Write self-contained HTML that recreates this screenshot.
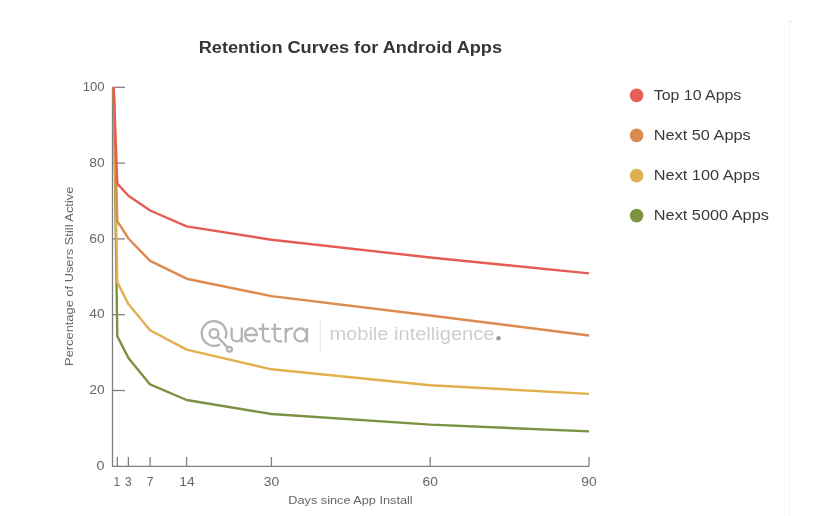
<!DOCTYPE html>
<html><head><meta charset="utf-8"><style>
html,body{margin:0;padding:0;background:#fff;width:817px;height:516px;overflow:hidden}
svg{display:block;will-change:transform}
text{font-family:"Liberation Sans",sans-serif}
</style></head><body>
<svg width="817" height="516" viewBox="0 0 817 516">
<rect width="817" height="516" fill="#fff"/>
<!-- faint right line -->
<line x1="41.5" y1="21" x2="41.5" y2="516" stroke="#fcfcfc" stroke-width="1"/>
<line x1="789.5" y1="23" x2="789.5" y2="516" stroke="#f7f7f7" stroke-width="1"/>
<circle cx="790.5" cy="21.3" r="1" fill="#e4e4e4"/>

<!-- title -->
<text x="350.4" y="53.1" text-anchor="middle" font-size="17.2" font-weight="bold" fill="#35353a" textLength="303.3" lengthAdjust="spacingAndGlyphs">Retention Curves for Android Apps</text>

<!-- watermark -->
<g fill="none" stroke="#b3b4b7" stroke-width="2.3">
  <path d="M220.15,344.15 A12.3,12.3 0 1 1 225.24,338.5"/>
  <circle cx="214" cy="333.5" r="4.4"/>
  <line x1="217.1" y1="336.6" x2="227.8" y2="347.6"/>
  <circle cx="229.5" cy="349.3" r="2.4"/>
  <path d="M231.6,327.5 V336.3 A5.1,5.1 0 0 0 241.8,336.3 M241.8,327.5 V342.4"/>
  <path d="M245.1,335 H256.9 A5.9,6.6 0 1 0 255.5,339"/>
  <path d="M263,323.6 V337 A4.4,4.4 0 0 0 267.4,341.4 H270.5 M258.5,328.8 H269.2"/>
  <path d="M274.8,323.6 V337 A4.4,4.4 0 0 0 279.2,341.4 H282.3 M271.2,328.8 H281.1"/>
  <path d="M285.7,327.9 V342.4 M285.7,334.5 C285.7,330.5 288.5,328.4 293,328.4"/>
  <ellipse cx="300.6" cy="334.95" rx="6.2" ry="6.45"/>
  <path d="M307,328 V342.4"/>
</g>
<line x1="320.3" y1="320" x2="320.3" y2="353" stroke="#e6e6e6" stroke-width="1"/>
<text x="329.4" y="340.3" font-size="18" fill="#cdced1" textLength="165" lengthAdjust="spacingAndGlyphs">mobile intelligence</text>
<circle cx="498.5" cy="338.2" r="2.2" fill="#9a9a9a"/>

<!-- axes -->
<g stroke="#7f7f7f" stroke-width="1.3" fill="none">
  <line x1="112.5" y1="87.3" x2="112.5" y2="466.3"/>
  <line x1="112" y1="466.3" x2="589" y2="466.3"/>
  <line x1="112.5" y1="87.3" x2="125" y2="87.3"/>
  <line x1="112.5" y1="163.1" x2="125" y2="163.1"/>
  <line x1="112.5" y1="238.9" x2="125" y2="238.9"/>
  <line x1="112.5" y1="314.7" x2="125" y2="314.7"/>
  <line x1="112.5" y1="390.5" x2="125" y2="390.5"/>
  <line x1="117.3" y1="457" x2="117.3" y2="466.3"/>
  <line x1="128.4" y1="457" x2="128.4" y2="466.3"/>
  <line x1="150.1" y1="457" x2="150.1" y2="466.3"/>
  <line x1="186.6" y1="457" x2="186.6" y2="466.3"/>
  <line x1="271.4" y1="457" x2="271.4" y2="466.3"/>
  <line x1="430.2" y1="457" x2="430.2" y2="466.3"/>
  <line x1="589" y1="457" x2="589" y2="466.3"/>
</g>
<g font-size="12" fill="#666" text-anchor="end">
  <text x="104.6" y="90.9" textLength="21.9" lengthAdjust="spacingAndGlyphs">100</text>
  <text x="104.6" y="166.7" textLength="15.4" lengthAdjust="spacingAndGlyphs">80</text>
  <text x="104.6" y="242.5" textLength="15.4" lengthAdjust="spacingAndGlyphs">60</text>
  <text x="104.6" y="318.3" textLength="15.4" lengthAdjust="spacingAndGlyphs">40</text>
  <text x="104.6" y="394.1" textLength="15.4" lengthAdjust="spacingAndGlyphs">20</text>
  <text x="104.6" y="469.9" textLength="8.0" lengthAdjust="spacingAndGlyphs">0</text>
</g>
<g font-size="12" fill="#666" text-anchor="middle">
  <text x="116.9" y="486">1</text>
  <text x="128.4" y="486">3</text>
  <text x="150" y="486">7</text>
  <text x="187" y="486" textLength="15.4" lengthAdjust="spacingAndGlyphs">14</text>
  <text x="271.4" y="486" textLength="15.4" lengthAdjust="spacingAndGlyphs">30</text>
  <text x="430.2" y="486" textLength="15.4" lengthAdjust="spacingAndGlyphs">60</text>
  <text x="589" y="486" textLength="15.4" lengthAdjust="spacingAndGlyphs">90</text>
</g>
<text x="350.5" y="503.8" font-size="11.5" fill="#666" text-anchor="middle" textLength="124.4" lengthAdjust="spacingAndGlyphs">Days since App Install</text>
<text transform="translate(73.4,276.3) rotate(-90)" font-size="11.5" fill="#666" text-anchor="middle" textLength="179.3" lengthAdjust="spacingAndGlyphs">Percentage of Users Still Active</text>

<!-- curves -->
<g fill="none" stroke-width="2.4" stroke-linejoin="round" stroke-linecap="butt">
  <polyline stroke="#7b9340" points="113.7,87.3 117.3,336.3 128.4,357.9 150.1,384.4 186.6,400.0 271.4,414.0 430.2,424.6 589.0,431.4"/>
  <polyline stroke="#e3b04f" points="113.7,87.3 117.3,282.1 128.4,304.1 150.1,330.2 186.6,349.6 271.4,369.3 430.2,385.2 589.0,393.9"/>
  <polyline stroke="#dc8a4e" points="113.7,87.3 117.3,221.1 128.4,238.5 150.1,260.9 186.6,278.7 271.4,296.1 430.2,315.5 589.0,335.5"/>
  <polyline stroke="#e65c55" points="113.7,87.3 117.3,183.6 128.4,195.7 150.1,210.5 186.6,226.4 271.4,239.7 430.2,257.5 589.0,273.4"/>
</g>

<!-- legend -->
<circle cx="636.6" cy="95.4" r="6.8" fill="#e65f57"/>
<circle cx="636.6" cy="135.4" r="6.8" fill="#d98a50"/>
<circle cx="636.6" cy="175.6" r="6.8" fill="#ddb052"/>
<circle cx="636.6" cy="215.6" r="6.8" fill="#7e9440"/>
<g font-size="15" fill="#3a3a3e">
  <text x="653.8" y="99.8" textLength="87.5" lengthAdjust="spacingAndGlyphs">Top 10 Apps</text>
  <text x="653.8" y="139.8" textLength="96.9" lengthAdjust="spacingAndGlyphs">Next 50 Apps</text>
  <text x="653.8" y="179.8" textLength="106.1" lengthAdjust="spacingAndGlyphs">Next 100 Apps</text>
  <text x="653.8" y="219.8" textLength="115.1" lengthAdjust="spacingAndGlyphs">Next 5000 Apps</text>
</g>
</svg>
</body></html>
